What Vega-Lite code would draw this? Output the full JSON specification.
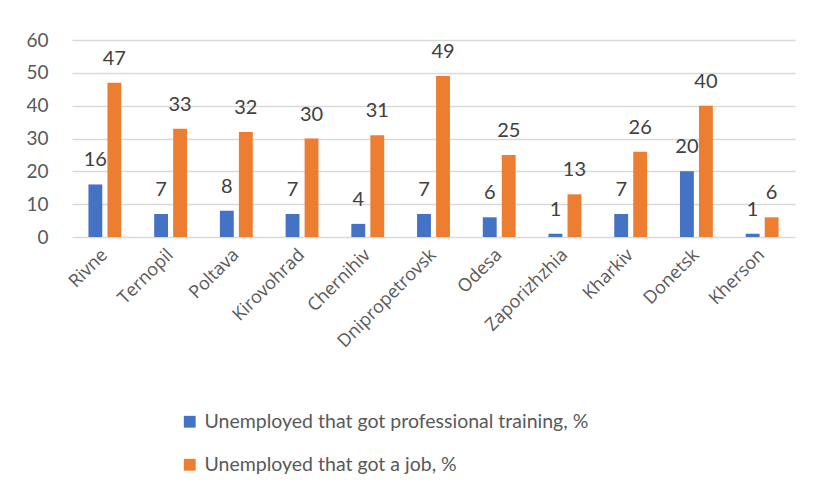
{
  "$schema": "https://vega.github.io/schema/vega-lite/v6.json",
  "autosize": {"type": "none"},
  "padding": {"left": 72, "top": 40, "right": 19, "bottom": 256},
  "width": 723,
  "height": 197,
  "background": "white",
  "data": {"values": [
    {"region": "Rivne", "series": "Unemployed that got professional training, %", "value": 16},
    {"region": "Rivne", "series": "Unemployed that got a job, %", "value": 47},
    {"region": "Ternopil", "series": "Unemployed that got professional training, %", "value": 7},
    {"region": "Ternopil", "series": "Unemployed that got a job, %", "value": 33},
    {"region": "Poltava", "series": "Unemployed that got professional training, %", "value": 8},
    {"region": "Poltava", "series": "Unemployed that got a job, %", "value": 32},
    {"region": "Kirovohrad", "series": "Unemployed that got professional training, %", "value": 7},
    {"region": "Kirovohrad", "series": "Unemployed that got a job, %", "value": 30},
    {"region": "Chernihiv", "series": "Unemployed that got professional training, %", "value": 4},
    {"region": "Chernihiv", "series": "Unemployed that got a job, %", "value": 31},
    {"region": "Dnipropetrovsk", "series": "Unemployed that got professional training, %", "value": 7},
    {"region": "Dnipropetrovsk", "series": "Unemployed that got a job, %", "value": 49},
    {"region": "Odesa", "series": "Unemployed that got professional training, %", "value": 6},
    {"region": "Odesa", "series": "Unemployed that got a job, %", "value": 25},
    {"region": "Zaporizhzhia", "series": "Unemployed that got professional training, %", "value": 1},
    {"region": "Zaporizhzhia", "series": "Unemployed that got a job, %", "value": 13},
    {"region": "Kharkiv", "series": "Unemployed that got professional training, %", "value": 7},
    {"region": "Kharkiv", "series": "Unemployed that got a job, %", "value": 26},
    {"region": "Donetsk", "series": "Unemployed that got professional training, %", "value": 20},
    {"region": "Donetsk", "series": "Unemployed that got a job, %", "value": 40},
    {"region": "Kherson", "series": "Unemployed that got professional training, %", "value": 1},
    {"region": "Kherson", "series": "Unemployed that got a job, %", "value": 6}
  ]},
  "encoding": {
    "x": {
      "field": "region", "type": "nominal", "sort": null,
      "scale": {"paddingInner": 0.5, "paddingOuter": 0.25},
      "axis": {
        "title": null, "labelAngle": -45, "labelAlign": "right", "labelBaseline": "middle",
        "labelFont": "Open Sans", "labelFontSize": 18, "labelColor": "#595959",
        "labelPadding": 15, "ticks": false, "domain": false, "grid": false
      }
    },
    "xOffset": {
      "field": "series", "type": "nominal", "sort": null,
      "scale": {"paddingInner": 0.27, "paddingOuter": 0}
    },
    "y": {
      "field": "value", "type": "quantitative",
      "scale": {"domain": [0, 60], "nice": false},
      "axis": {
        "title": null, "values": [0, 10, 20, 30, 40, 50, 60],
        "labelFont": "Lato", "labelFontSize": 19, "labelColor": "#595959",
        "labelPadding": 24, "ticks": false, "domain": false,
        "grid": true, "gridColor": "#D9D9D9", "gridWidth": 1.5
      }
    }
  },
  "layer": [
    {
      "mark": {"type": "bar"},
      "encoding": {
        "color": {
          "field": "series", "type": "nominal", "sort": null,
          "scale": {"domain": ["Unemployed that got professional training, %", "Unemployed that got a job, %"], "range": ["#4472C4", "#ED7D31"]},
          "legend": {
            "title": null, "orient": "none", "direction": "vertical",
            "legendX": 108, "legendY": 372,
            "symbolType": "square", "symbolSize": 140, "symbolStrokeWidth": 0,
            "labelFont": "Lato", "labelFontSize": 19.5, "labelColor": "#595959",
            "labelLimit": 500, "rowPadding": 22, "labelOffset": 5
          }
        }
      }
    },
    {
      "mark": {"type": "text", "baseline": "bottom", "dy": -14, "font": "Lato", "fontSize": 20, "color": "#404040"},
      "encoding": {"text": {"field": "value", "type": "quantitative"}}
    }
  ],
  "config": {"view": {"stroke": null}}
}
